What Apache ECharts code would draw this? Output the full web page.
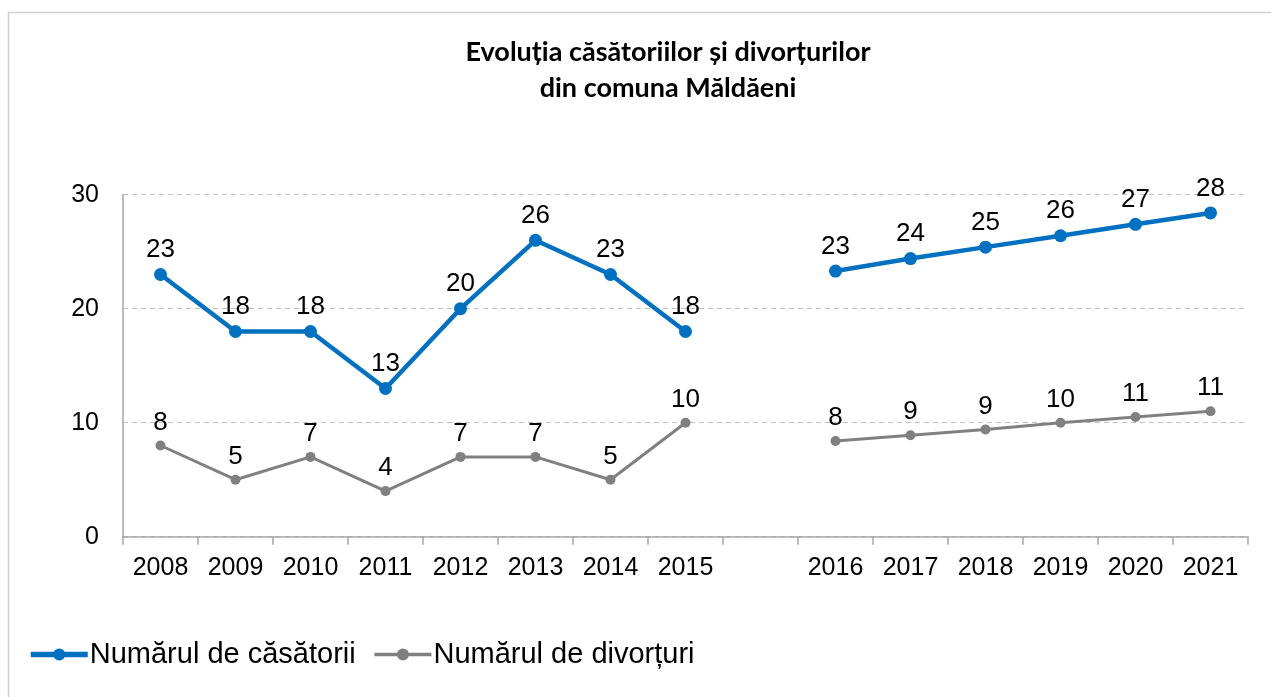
<!DOCTYPE html>
<html>
<head>
<meta charset="utf-8">
<script src="https://cdn.jsdelivr.net/npm/echarts@6/dist/echarts.min.js"></script>
<style>
  html, body { margin: 0; padding: 0; background: #fff; }
  #chart { width: 1271px; height: 697px; }
</style>
</head>
<body>
<div id="chart"></div>
<script>
// Years on the category axis; the empty slot separates the two periods
const years = ['2008', '2009', '2010', '2011', '2012', '2013', '2014', '2015', '',
               '2016', '2017', '2018', '2019', '2020', '2021'];

// Number of marriages per year (null = gap between periods)
const marriages = [23, 18, 18, 13, 20, 26, 23, 18, null,
                   23.3, 24.4, 25.4, 26.4, 27.4, 28.4];

// Number of divorces per year
const divorces = [8, 5, 7, 4, 7, 7, 5, 10, null,
                  8.4, 8.9, 9.4, 10.0, 10.5, 11.0];

const yTicks = { min: 0, max: 30, interval: 10 };

const seriesNames = ['Numărul de căsătorii', 'Numărul de divorțuri'];
const titleText = 'Evoluția căsătoriilor și divorțurilor\ndin comuna Măldăeni';

const BLUE = '#0070C0';
const GREY = '#808080';
const AXIS = '#A6A6A6';
const FONT = '"Liberation Sans", Arial, sans-serif';

const chart = echarts.init(document.getElementById('chart'), null, { renderer: 'canvas' });

const labelCfg = {
  show: true,
  position: 'top',
  distance: 5,
  color: '#000',
  fontFamily: FONT,
  fontSize: 26,
  formatter: p => String(Math.round(p.value))
};

chart.setOption({
  animation: false,
  backgroundColor: '#fff',
  graphic: [{
    type: 'rect',
    shape: { x: 8.5, y: 12.5, width: 1400, height: 900 },
    style: { fill: 'none', stroke: '#D0D0D0', lineWidth: 1.5 },
    silent: true,
    z: -1
  }],
  title: {
    text: titleText,
    left: 668,
    top: 34,
    padding: 0,
    textAlign: 'center',
    textStyle: {
      fontFamily: 'Lato, "Open Sans", sans-serif',
      fontWeight: 'bold',
      fontSize: 27,
      lineHeight: 36,
      color: '#000'
    }
  },
  legend: {
    data: [
      { name: seriesNames[0], lineStyle: { width: 5.5 } },
      { name: seriesNames[1], lineStyle: { width: 3.5 } }
    ],
    left: 28,
    top: 640,
    padding: 0,
    itemWidth: 57,
    itemHeight: 15,
    itemGap: 17,
    textStyle: {
      fontFamily: FONT,
      fontSize: 29,
      color: '#000',
      padding: [0, 0, 0, -3]
    }
  },
  grid: {
    left: 123,
    right: 23,
    top: 194.7,
    bottom: 160.3,
    containLabel: false
  },
  xAxis: {
    type: 'category',
    data: years,
    boundaryGap: true,
    axisLine: { show: true, lineStyle: { color: AXIS, width: 1.5 } },
    axisTick: { show: true, length: 8, alignWithLabel: false, interval: 0, lineStyle: { color: AXIS, width: 1.5 } },
    axisLabel: {
      interval: 0,
      margin: 19,
      color: '#000',
      fontFamily: FONT,
      fontSize: 25
    },
    splitLine: { show: false }
  },
  yAxis: {
    type: 'value',
    min: yTicks.min,
    max: yTicks.max,
    interval: yTicks.interval,
    axisLine: { show: true, lineStyle: { color: AXIS, width: 1.5 } },
    axisTick: { show: false },
    axisLabel: {
      margin: 24,
      color: '#000',
      fontFamily: FONT,
      fontSize: 25
    },
    splitLine: { show: true, lineStyle: { color: '#C0C0C0', type: [5, 4], width: 1 } }
  },
  series: [
    {
      name: seriesNames[0],
      type: 'line',
      data: marriages,
      connectNulls: false,
      symbol: 'circle',
      symbolSize: 13,
      color: BLUE,
      lineStyle: { color: BLUE, width: 4.5 },
      itemStyle: { color: BLUE },
      label: labelCfg,
      z: 3
    },
    {
      name: seriesNames[1],
      type: 'line',
      data: divorces,
      connectNulls: false,
      symbol: 'circle',
      symbolSize: 10,
      color: GREY,
      lineStyle: { color: GREY, width: 3 },
      itemStyle: { color: GREY },
      label: labelCfg,
      z: 2
    }
  ]
});
</script>
</body>
</html>
